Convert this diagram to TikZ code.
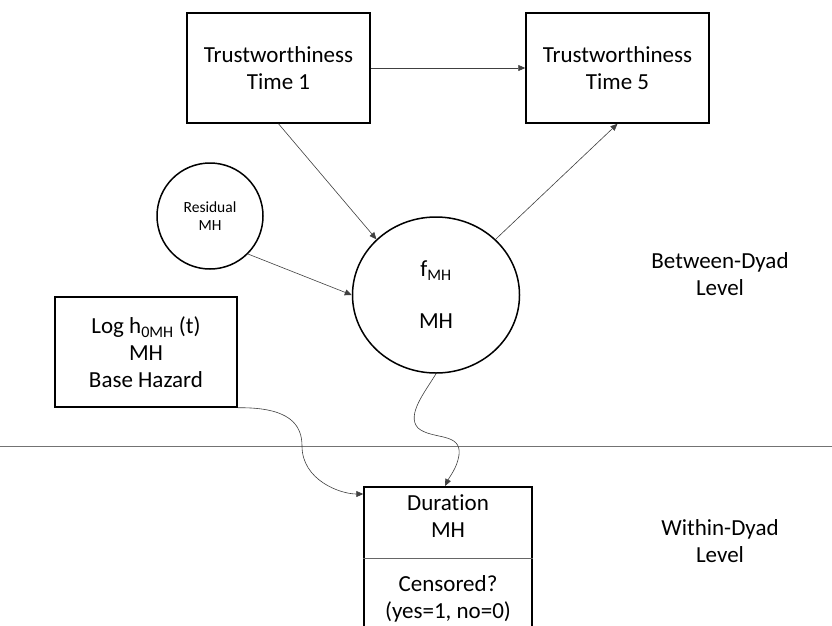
\documentclass[tikz,border=0pt]{standalone}
\usepackage{fontspec}
\setmainfont{Carlito}[Ligatures=NoCommon]
\usetikzlibrary{shapes.geometric,arrows.meta}
\begin{document}
\begin{tikzpicture}[x=1pt,y=-1pt,
  bigtxt/.style={font=\fontsize{23}{27}\selectfont, align=center},
  boxnode/.style={draw=black, line width=1.5pt, rectangle, minimum width=183pt, minimum height=110pt, inner sep=0pt, bigtxt},
  conn/.style={draw=black!75, line width=0.6pt, -{Triangle[length=7pt,width=6pt]}},
  lbl/.style={bigtxt, inner sep=0pt}]
\clip (0,0) rectangle (832,625);
\fill[white] (0,0) rectangle (832,625);

\node[boxnode] (t1) at (278.5,68) {Trustworthiness\\Time 1};
\node[boxnode] (t5) at (617.5,68) {Trustworthiness\\Time 5};
\node[draw=black, line width=1.5pt, circle, minimum size=106pt, inner sep=0pt,
      font=\fontsize{15.5}{18.5}\selectfont, align=center] (res) at (210,216) {Residual\\MH};
\node[draw=black, line width=1.5pt, ellipse, minimum width=167pt, minimum height=156pt, inner sep=0pt, bigtxt] (f) at (436,295)
  {f\textsubscript{MH}\\[25pt]MH};
\node[boxnode, minimum width=182pt] (log) at (146,352) {Log h\textsubscript{0MH} (t)\\MH\\Base Hazard};

\node[draw=black, line width=1.5pt, rectangle, anchor=north, minimum width=168pt, minimum height=250pt, inner sep=0pt] (dur) at (448,486) {};
\draw[black!60, line width=0.8pt] (dur.west |- 0,558) -- (dur.east |- 0,558);
\node[lbl] (durtxt) at (448,516) {Duration\\MH};
\node[lbl] (cens) at (448,599) {Censored?\\(yes=1, no=0)};

\coordinate (divl) at (0,446);
\coordinate (divr) at (832,446);
\draw[black!55, line width=0.8pt] (divl) -- (divr);

\node[lbl] (between) at (720,274) {Between-Dyad\\Level};
\node[lbl] (within) at (720,541) {Within-Dyad\\Level};

\draw[conn] (t1) -- (t5);
\draw[conn] (t1.south) -- (f.north west);
\draw[conn] (f.north east) -- (t5.south);
\draw[conn] (res.south east) -- (f.west);
\draw[conn] (log.south east) .. controls (290,407) and (302,425) .. (302,446)
  .. controls (302,480) and (340,494) .. (dur.north west |- 0,494);
\draw[conn] (f.south) .. controls (425,392) and (406,415) .. (418,428)
  .. controls (432,440) and (462,432) .. (459,455)
  .. controls (457,468) and (450,476) .. (dur.north -| 445,0);
\end{tikzpicture}
\end{document}
